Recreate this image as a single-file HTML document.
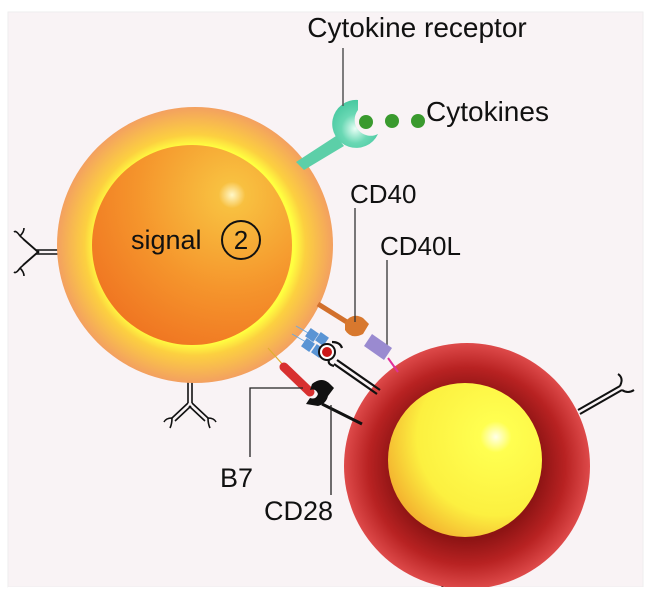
<!DOCTYPE html>
<html><head><meta charset="utf-8"><style>
html,body{margin:0;padding:0;background:#fff;}
svg{display:block;}
text{font-family:"Liberation Sans",sans-serif;fill:#111;}
</style></head><body>
<svg width="652" height="600" viewBox="0 0 652 600" xmlns="http://www.w3.org/2000/svg">
<defs>
<radialGradient id="outerO" cx="0.5" cy="0.5" r="0.5">
<stop offset="0.72" stop-color="#ffff40"/>
<stop offset="0.8" stop-color="#fcd040"/>
<stop offset="1" stop-color="#f3a060"/>
</radialGradient>
<radialGradient id="innerO" cx="0.7" cy="0.25" r="0.95">
<stop offset="0" stop-color="#fff8c8"/>
<stop offset="0.07" stop-color="#f8c040"/>
<stop offset="0.5" stop-color="#f5952c"/>
<stop offset="1" stop-color="#ee6a1e"/>
</radialGradient>
<radialGradient id="outerR" cx="0.5" cy="0.5" r="0.5">
<stop offset="0.6" stop-color="#8e1414"/>
<stop offset="0.8" stop-color="#b82222"/>
<stop offset="1" stop-color="#de4a4a"/>
</radialGradient>
<radialGradient id="innerY" cx="0.7" cy="0.35" r="0.85">
<stop offset="0" stop-color="#ffffe8"/>
<stop offset="0.12" stop-color="#ffff50"/>
<stop offset="0.6" stop-color="#fcf040"/>
<stop offset="1" stop-color="#f09828"/>
</radialGradient>
<radialGradient id="teal" cx="0.5" cy="0.6" r="0.6">
<stop offset="0" stop-color="#e8fff6"/>
<stop offset="0.5" stop-color="#6ad8b4"/>
<stop offset="1" stop-color="#48c8a0"/>
</radialGradient>
</defs>
<rect x="0" y="0" width="652" height="600" fill="#fff"/>
<rect x="8" y="12" width="635" height="575" fill="#f9f3f5" stroke="#eee"/>

<g stroke="#111" stroke-width="1.6" fill="none">
<path d="M60 250 H36 M60 254 H36"/>
<path d="M36 250 L20 236 M39 253 L23 239"/>
<path d="M36 254 L20 268 M39 251 L23 265"/>
<path d="M20 236 q-4 -6 -6 -4 M20 236 q4 -4 4 -8"/>
<path d="M20 268 q-4 6 -6 4 M20 268 q4 4 4 8"/>
<path d="M188 380 V403 M192 380 V403"/>
<path d="M188 403 L172 418 M191 406 L175 421"/>
<path d="M192 403 L208 418 M189 406 L205 421"/>
<path d="M172 418 q-6 0 -8 4 M172 418 q0 6 -2 10"/>
<path d="M208 418 q6 0 8 4 M208 418 q0 6 2 10"/>
</g>

<circle cx="195" cy="245" r="138" fill="url(#outerO)"/>
<circle cx="192" cy="245" r="100" fill="url(#innerO)"/>
<text x="131" y="249" font-size="27">signal</text>
<circle cx="241" cy="240" r="19" fill="none" stroke="#111" stroke-width="2"/>
<text x="241" y="249" font-size="26" text-anchor="middle">2</text>

<path d="M296 162 L336 136 L344 146 L304 170 Z" fill="#5ccfa8"/>
<path d="M358 100 A24 24 0 1 0 378 134 A16 16 0 0 1 358 110 Z" fill="url(#teal)"/>
<circle cx="366" cy="122" r="7" fill="#3a9a2e"/>
<circle cx="392" cy="121" r="7" fill="#3a9a2e"/>
<circle cx="418" cy="121" r="7" fill="#3a9a2e"/>
<line x1="343" y1="48" x2="343" y2="106" stroke="#555" stroke-width="1.5"/>
<text x="417" y="37" font-size="28" text-anchor="middle">Cytokine receptor</text>
<text x="426" y="121" font-size="28">Cytokines</text>

<g stroke="#111" stroke-width="2" fill="none">
<path d="M578 410 L620 386 M580 414 L622 390"/>
<path d="M620 386 q4 -8 -2 -12 M622 390 q6 4 12 0"/>
<path d="M440 578 L444 592 M446 578 L450 592"/>
</g>
<circle cx="467" cy="466" r="123" fill="url(#outerR)"/>
<circle cx="465" cy="460" r="77" fill="url(#innerY)"/>
<rect x="8" y="587" width="644" height="13" fill="#fff"/>

<line x1="318" y1="304" x2="350" y2="324" stroke="#d2702c" stroke-width="5"/>
<path d="M345 322 q8 -10 18 -4 l6 6 l-6 10 q-12 6 -18 -4 Z" fill="#d8782e"/>
<line x1="355" y1="208" x2="355" y2="322" stroke="#333" stroke-width="1.3"/>
<text x="350" y="203" font-size="26">CD40</text>
<line x1="388" y1="358" x2="398" y2="372" stroke="#e0309a" stroke-width="2"/>
<line x1="387" y1="260" x2="387" y2="345" stroke="#333" stroke-width="1.3"/>
<path d="M372 334 L392 348 L384 360 L364 346 Z" fill="#9a8ad0"/>
<text x="380" y="255" font-size="26">CD40L</text>

<g stroke="#6aa8e0" stroke-width="1">
<line x1="296" y1="326" x2="310" y2="334"/>
<line x1="292" y1="334" x2="306" y2="342"/>
</g>
<g fill="#5a94d4">
<rect x="307" y="330" width="10" height="10" transform="rotate(35 312 335)"/>
<rect x="317" y="334" width="10" height="10" transform="rotate(35 322 339)"/>
<rect x="303" y="340" width="10" height="10" transform="rotate(35 308 345)"/>
<rect x="313" y="346" width="10" height="10" transform="rotate(35 318 351)"/>
</g>
<g stroke="#111" stroke-width="2.2" fill="none">
<path d="M332 342 q8 0 10 6 M330 358 q-4 6 4 8"/>
<path d="M337 360 L380 390 M334 364 L377 394"/>
</g>
<circle cx="327" cy="352" r="8" fill="#fff" stroke="#111" stroke-width="2"/>
<circle cx="327" cy="352" r="5" fill="#cc1818"/>

<line x1="268" y1="348" x2="284" y2="366" stroke="#e0b030" stroke-width="1.2"/>
<line x1="284" y1="367" x2="310" y2="392" stroke="#d83030" stroke-width="9" stroke-linecap="round"/>
<path d="M312 384 q10 -8 18 0 l4 4 l-6 8 q-2 8 -10 10 l-12 -2 l4 -6 q6 2 8 -4 q-2 -6 -8 -4 Z" fill="#111"/>
<line x1="322" y1="404" x2="362" y2="424" stroke="#111" stroke-width="3"/>
<path d="M303 388 H250 V457" stroke="#222" stroke-width="1.3" fill="none"/>
<line x1="331" y1="405" x2="331" y2="495" stroke="#222" stroke-width="1.3"/>
<text x="220" y="487" font-size="27">B7</text>
<text x="264" y="520" font-size="27">CD28</text>
</svg>
</body></html>
